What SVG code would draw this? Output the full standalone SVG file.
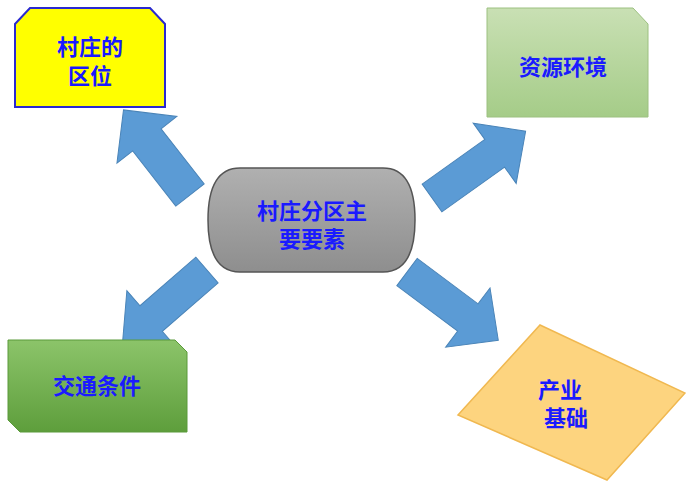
<svg xmlns="http://www.w3.org/2000/svg" width="686" height="488" viewBox="0 0 686 488">
<style>
.t{font-family:"Liberation Serif","Noto Sans CJK SC",serif;font-weight:bold;font-size:22px;fill:#1a1aff;text-anchor:middle}
.ar{fill:#5b9bd5;stroke:#4a84b8;stroke-width:1}
</style>
<defs>
<linearGradient id="g1" x1="0" y1="0" x2="0" y2="1"><stop offset="0" stop-color="#c9e0b4"/><stop offset="1" stop-color="#a5cc88"/></linearGradient>
<linearGradient id="g2" x1="0" y1="0" x2="0" y2="1"><stop offset="0" stop-color="#8cc46a"/><stop offset="1" stop-color="#5e9e3c"/></linearGradient>
<linearGradient id="g3" x1="0" y1="0" x2="0" y2="1"><stop offset="0" stop-color="#b0b0b0"/><stop offset="1" stop-color="#8e8e8e"/></linearGradient>
</defs>
<rect width="686" height="488" fill="#fff"/>
<g id="connectors">
<path class="ar" transform="translate(190,195) rotate(-128)" d="M0,-18 L70,-18 L70,-38 L108,0 L70,38 L70,18 L0,18 Z"/>
<path class="ar" transform="translate(432,198) rotate(-35.5)" d="M0,-17 L77,-17 L77,-37 L115,0 L77,37 L77,17 L0,17 Z"/>
<path class="ar" transform="translate(207,270) rotate(139)" d="M0,-17 L74,-17 L74,-37 L112,0 L74,37 L74,17 L0,17 Z"/>
<path class="ar" transform="translate(407,272) rotate(36.8)" d="M0,-17 L76,-17 L76,-37 L114,0 L76,37 L76,17 L0,17 Z"/>
</g>
<g id="n1">
<path d="M15,24 L30,8 L150,8 L165,24 L165,107 L15,107 Z" fill="#ffff00" stroke="#2a2ad0" stroke-width="2"/>
<text class="t" x="90" y="55">村庄的</text>
<text class="t" x="90" y="84">区位</text>
</g>
<g id="n2">
<path d="M487,8 L633,8 L648,24 L648,117 L487,117 Z" fill="url(#g1)" stroke="#9cc080" stroke-width="1"/>
<text class="t" x="563" y="75">资源环境</text>
</g>
<g id="n3">
<path d="M240,168 L383,168 Q415,168 415,220 Q415,272 383,272 L240,272 Q208,272 208,220 Q208,168 240,168 Z" fill="url(#g3)" stroke="#555" stroke-width="1.5"/>
<text class="t" x="312" y="219">村庄分区主</text>
<text class="t" x="312" y="247">要要素</text>
</g>
<g id="n4">
<path d="M8,340 L175,340 L187,352 L187,432 L20,432 L8,420 Z" fill="url(#g2)" stroke="#5a9a3a" stroke-width="1"/>
<text class="t" x="97" y="394">交通条件</text>
</g>
<g id="n5">
<path d="M540,325 L685,393 L607,480 L458,415 Z" fill="#fdd47f" stroke="#f0b850" stroke-width="1.5"/>
<text class="t" x="560" y="398">产业</text>
<text class="t" x="566" y="426">基础</text>
</g>
</svg>
